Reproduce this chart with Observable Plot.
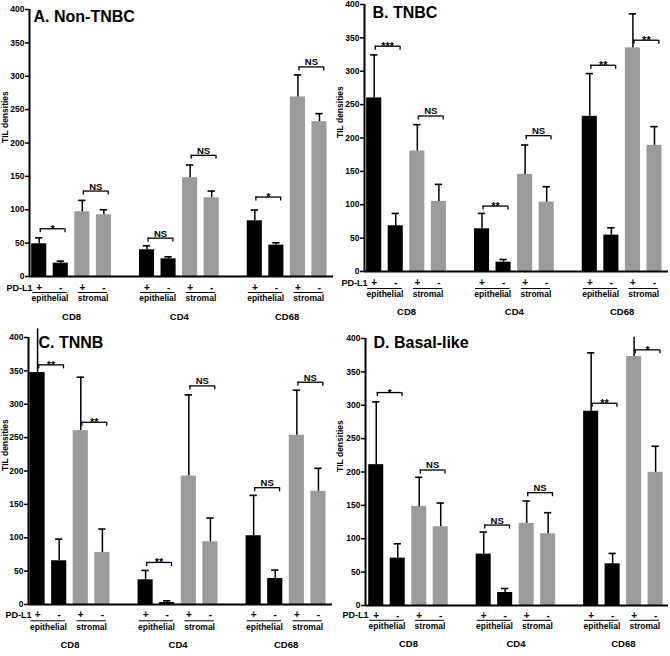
<!DOCTYPE html>
<html><head><meta charset="utf-8">
<script src="https://cdn.jsdelivr.net/npm/d3@7"></script>
<script src="https://cdn.jsdelivr.net/npm/@observablehq/plot@0.6"></script>
<style>
body{margin:0;background:#fff;}
#wrap{position:relative;width:670px;height:656px;background:#fff;}
.panel{position:absolute;width:335px;height:328px;}
</style></head><body><div id="wrap"></div>
<script>
// ---- data ----
const panelTitles = ["A. Non-TNBC", "B. TNBC", "C. TNNB", "D. Basal-like"];
const groups = ["CD8", "CD4", "CD68"];
const compartments = ["epithelial", "stromal"];
const barSigns = ["+", "-", "+", "-"];
const yTicks = [0, 50, 100, 150, 200, 250, 300, 350, 400];

// mean per panel -> group -> [epi+, epi-, str+, str-]
const meanA = [[49, 20, 97, 92.5], [40, 26.5, 148, 118], [83.5, 47, 269, 232]];
const errA  = [[58, 23, 114, 100], [46, 29.5, 167, 128], [99.5, 50.5, 302, 244]];
const meanB = [[260, 68.5, 180.5, 105], [64, 14, 145.5, 104], [232.5, 54.5, 335, 189]];
const errB  = [[324.5, 87, 220, 130.5], [87, 18, 189.5, 127], [296.5, 65.5, 386, 217]];
const meanC = [[347.5, 65.5, 260.5, 78], [37, 3, 192.5, 94], [103, 39, 253.5, 169.5]];
const errC  = [[413, 98, 340.5, 113], [51, 5.5, 314, 129.5], [163.5, 51.5, 321, 204]];
const meanD = [[211, 71, 148.5, 118], [77, 19.5, 123, 107.5], [291, 62.5, 373, 199.5]];
const errD  = [[305, 92.5, 192, 153.5], [110, 25.5, 156.5, 139], [378.5, 78, 402, 238.5]];

// significance brackets per group: [epithelial, stromal]
const sigA = [["*", "NS"], ["NS", "NS"], ["*", "NS"]];
const sigLevelA = [[71.5, 128], [57.5, 181.5], [119, 314]];
const sigB = [["***", "NS"], ["**", "NS"], ["**", "**"]];
const sigLevelB = [[337.5, 233], [98, 203.5], [309, 346.5]];
const sigC = [["**", "**"], ["**", "NS"], ["NS", "NS"]];
const sigLevelC = [[359, 273], [63, 327.5], [175, 333]];
const sigD = [["*", "NS"], ["NS", "NS"], ["**", "*"]];
const sigLevelD = [[319, 203], [120.5, 169], [303, 383]];

const means = [meanA, meanB, meanC, meanD];
const errs = [errA, errB, errC, errD];
const sigs = [sigA, sigB, sigC, sigD];
const sigLevels = [sigLevelA, sigLevelB, sigLevelC, sigLevelD];

// ---- layout (styles) ----
const layouts = [
  {left: 0,   top: 0,   mt: 9,  mb: 52, ml: 29, mr: 2, x0: -0.45, x1: 13.65, d1: 11.3, d2: 16, d3: 22, d4: 40.7, tdx: 4,  tdy: 7},
  {left: 335, top: 0,   mt: 4,  mb: 57, ml: 29, mr: 2, x0: -0.45, x1: 13.65, d1: 11.6, d2: 17, d3: 22.6, d4: 40, tdx: 8,  tdy: 8.5},
  {left: 0,   top: 328, mt: 9,  mb: 52, ml: 28, mr: 3, x0: -0.42, x1: 13.65, d1: 10.3, d2: 16.3, d3: 22.3, d4: 40, tdx: 10, tdy: 5.2},
  {left: 335, top: 328, mt: 10, mb: 51, ml: 30, mr: 2, x0: -0.5,  x1: 13.6, d1: 9.8, d2: 14.8, d3: 21, d4: 38, tdx: 8,  tdy: 4.2}
];

const FONT = "'Liberation Sans', Arial, Helvetica, sans-serif";
const GRAY = "#9b9b9b";

function makePanel(p) {
  const L = layouts[p];
  const rows = [];
  groups.forEach((g, gi) => barSigns.forEach((s, bi) => rows.push({
    slot: gi * 5 + bi, mean: means[p][gi][bi], err: errs[p][gi][bi],
    comp: compartments[bi >> 1], sign: s
  })));
  const brs = [];
  groups.forEach((g, gi) => compartments.forEach((c, ci) => brs.push({
    xa: gi * 5 + ci * 2 + 0.05, xb: gi * 5 + ci * 2 + 1.2,
    level: sigLevels[p][gi][ci], label: sigs[p][gi][ci]
  })));
  const comps = [];
  groups.forEach((g, gi) => compartments.forEach((c, ci) => comps.push({
    x: gi * 5 + ci * 2 + 0.5, label: c, half: ci === 0 ? 0.8 : 0.68
  })));
  const drop = 6;
  const chart = Plot.plot({
    width: 335, height: 328,
    marginTop: L.mt, marginBottom: L.mb, marginLeft: L.ml, marginRight: L.mr,
    style: {fontFamily: FONT, overflow: "visible", background: "white"},
    x: {domain: [L.x0, L.x1], axis: null},
    y: {domain: [0, 400], axis: null},
    marks: [
      Plot.rect(rows, {x1: d => d.slot - 0.35, x2: d => d.slot + 0.35, y1: 0, y2: "mean",
        fill: d => d.comp === "epithelial" ? "black" : GRAY}),
      Plot.ruleX(rows, {x: "slot", y1: "mean", y2: "err", strokeWidth: 1.5}),
      Plot.ruleY(rows.filter(d => d.err <= 400), {y: "err", x1: d => d.slot - 0.17, x2: d => d.slot + 0.17, strokeWidth: 1.6}),
      // brackets
      Plot.ruleY(brs, {y: "level", x1: "xa", x2: "xb", strokeWidth: 1.3}),
      Plot.ruleX(brs, {x: "xa", y1: "level", y2: d => d.level - drop, strokeWidth: 1.3}),
      Plot.ruleX(brs, {x: "xb", y1: "level", y2: d => d.level - drop, strokeWidth: 1.3}),
      Plot.text(brs.filter(d => d.label === "NS"), {x: d => (d.xa + d.xb) / 2, y: "level", text: "label",
        lineAnchor: "bottom", dy: -1.5, fontSize: 9.5, fontWeight: "bold"}),
      Plot.text(brs.filter(d => d.label !== "NS"), {x: d => (d.xa + d.xb) / 2, y: "level", text: "label",
        lineAnchor: "bottom", dy: 4, fontSize: 11, fontWeight: "bold", letterSpacing: "0.5px"}),
      // axes lines
      Plot.ruleY([0], {strokeWidth: 2}),
      Plot.ruleX([L.x0], {strokeWidth: 2}),
      Plot.axisY(yTicks, {tickSize: 4, tickPadding: 1, strokeWidth: 1.5, fontSize: 8.5, fontWeight: "bold", label: null}),
      Plot.text(["TIL densities"], {frameAnchor: "left", rotate: -90, dx: -L.ml + 5, fontSize: 8.5, fontWeight: "bold"}),
      // title
      Plot.text([panelTitles[p]], {frameAnchor: "top-left", textAnchor: "start", lineAnchor: "middle",
        dx: L.tdx, dy: L.tdy, fontSize: 16, fontWeight: "bold"}),
      // x annotations
      Plot.text(rows, {x: "slot", y: 0, text: "sign", dy: L.d1, fontSize: 10, fontWeight: "bold", lineAnchor: "middle"}),
      Plot.text(["PD-L1"], {frameAnchor: "bottom-left", textAnchor: "end", lineAnchor: "middle", dx: 3, dy: L.d1,
        fontSize: 9, fontWeight: "bold"}),
      Plot.ruleY(comps, {y: 0, x1: d => d.x - d.half, x2: d => d.x + d.half, dy: L.d2, strokeWidth: 1}),
      Plot.text(comps, {x: "x", y: 0, text: "label", dy: L.d3, lineAnchor: "middle", fontSize: 8.5, fontWeight: "bold"}),
      Plot.text(groups, {x: (d, i) => i * 5 + 1.5, y: 0, text: d => d, dy: L.d4, lineAnchor: "middle",
        fontSize: 9.5, fontWeight: "bold"})
    ]
  });
  const div = document.createElement("div");
  div.className = "panel";
  div.style.left = L.left + "px";
  div.style.top = L.top + "px";
  div.appendChild(chart);
  return div;
}

const wrap = document.getElementById("wrap");
panelTitles.forEach((t, p) => wrap.appendChild(makePanel(p)));
</script>
</body></html>
